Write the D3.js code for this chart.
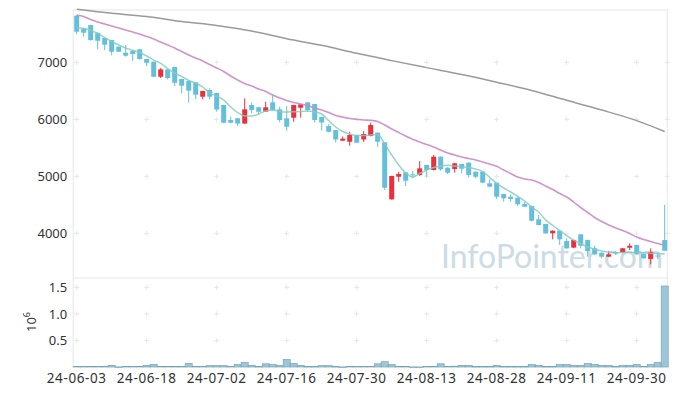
<!DOCTYPE html>
<html>
<head>
<meta charset="utf-8">
<script src="https://cdn.jsdelivr.net/npm/d3@7"></script>
<style>
  body { margin: 0; background: #fff; }
  svg { display: block; font-family: "Noto Sans", sans-serif; }
</style>
</head>
<body>
<div id="chart"></div>
<script>
// trading days
const dates = [
  "24-06-03","24-06-04","24-06-05","24-06-07","24-06-10","24-06-11","24-06-12","24-06-13","24-06-14","24-06-17",
  "24-06-18","24-06-19","24-06-20","24-06-21","24-06-24","24-06-25","24-06-26","24-06-27","24-06-28","24-07-01",
  "24-07-02","24-07-03","24-07-04","24-07-05","24-07-08","24-07-09","24-07-10","24-07-11","24-07-12","24-07-15",
  "24-07-16","24-07-17","24-07-18","24-07-19","24-07-22","24-07-23","24-07-24","24-07-25","24-07-26","24-07-29",
  "24-07-30","24-07-31","24-08-01","24-08-02","24-08-05","24-08-06","24-08-07","24-08-08","24-08-09","24-08-12",
  "24-08-13","24-08-14","24-08-16","24-08-19","24-08-20","24-08-21","24-08-22","24-08-23","24-08-26","24-08-27",
  "24-08-28","24-08-29","24-08-30","24-09-02","24-09-03","24-09-04","24-09-05","24-09-06","24-09-09","24-09-10",
  "24-09-11","24-09-12","24-09-13","24-09-19","24-09-20","24-09-23","24-09-24","24-09-25","24-09-26","24-09-27",
  "24-09-30","24-10-02","24-10-04","24-10-07","24-10-08"
];

const opens = [7818,7596,7654,7519,7426,7391,7274,7168,7204,7228,7058,7011,6747,6877,6918,6707,6672,6649,6397,6514,
  6461,6251,5988,6018,5926,6251,6211,6133,6298,6175,6018,6028,6204,6298,6268,6040,5882,5812,5625,5607,
  5725,5646,5707,5765,5596,4596,4993,5070,5035,5023,5198,5111,5344,5151,5128,5216,5239,5081,5081,4877,
  4888,4689,4642,4625,4514,4479,4246,4163,4000,4046,3865,3749,3982,3882,3737,3660,3590,3667,3660,3747,
  3795,3637,3549,3610,3882];
const highs = [7830,7600,7660,7520,7430,7395,7280,7304,7210,7235,7060,7015,6900,6880,6920,6710,6680,6655,6500,6544,
  6470,6255,6046,6020,6368,6291,6215,6309,6426,6221,6233,6255,6268,6300,6270,6045,5917,5815,5698,5782,
  5730,5795,5940,5770,5600,5010,5081,5075,5098,5268,5200,5374,5350,5160,5235,5220,5245,5085,5085,4947,
  4890,4690,4684,4630,4554,4485,4321,4165,4050,4050,3912,3890,3990,3890,3782,3665,3689,3689,3740,3824,
  3800,3640,3736,3649,4497];
const lows = [7491,7449,7380,7228,7216,7123,7180,7100,7028,7050,6935,6740,6725,6700,6584,6456,6291,6351,6351,6351,
  6133,5930,5935,5882,5920,6105,6075,6130,6150,5947,5800,5958,6032,6128,5947,5804,5770,5593,5620,5537,
  5585,5602,5700,5519,4760,4590,4905,4830,4965,5005,4993,5105,5098,5040,5063,5053,4982,4965,4880,4810,
  4602,4554,4554,4479,4460,4210,4140,3990,3895,3795,3730,3740,3737,3590,3625,3561,3585,3619,3655,3707,
  3625,3555,3456,3549,3690];
const closes = [7537,7519,7391,7379,7309,7186,7186,7116,7146,7058,6993,6747,6877,6725,6642,6590,6502,6432,6497,6397,
  6172,5940,5940,5926,6175,6163,6133,6211,6163,5988,5870,6251,6263,6163,5988,5944,5782,5646,5660,5725,
  5590,5742,5900,5607,4800,5005,5040,4923,5018,5140,5111,5344,5123,5063,5228,5133,5023,4993,4888,4818,
  4642,4614,4602,4509,4467,4221,4146,4000,4046,3895,3737,3882,3782,3689,3631,3590,3631,3649,3737,3782,
  3631,3561,3677,3593,3695];
const volumes = [12000,10000,12000,10000,12000,30000,2000,10000,10000,12000,30000,50000,12000,10000,10000,12000,66000,12000,10000,25000,
  25000,25000,12000,47000,85000,30000,8000,60000,47000,30000,140000,64000,30000,8000,8000,25000,25000,8000,2000,12000,
  12000,12000,12000,60000,100000,47000,12000,12000,2000,2000,12000,12000,60000,12000,15000,30000,30000,8000,8000,8000,
  30000,8000,8000,8000,8000,47000,30000,8000,8000,47000,47000,30000,30000,64000,47000,30000,30000,8000,30000,30000,
  47000,12000,47000,85000,1525000];

// short moving average (teal)
const maShort = [7605,7593,7563,7505,7435,7365,7304,7251,7211,7172,7111,7040,6982,6891,6812,6751,6681,6637,6567,6461,
  6409,6339,6216,6119,6058,6058,6093,6146,6163,6137,6128,6133,6137,6146,6128,6093,5979,5865,5786,5742,
  5716,5716,5725,5733,5567,5374,5198,5058,4988,5049,5111,5154,5181,5193,5181,5168,5154,5128,5084,4979,
  4877,4795,4725,4646,4567,4461,4374,4233,4137,4049,3961,3882,3821,3760,3719,3689,3672,3660,3663,3667,
  3663,3658,3651,3644,3637];
// mid moving average (pink)
const maMid = [7830,7804,7751,7707,7672,7637,7602,7567,7532,7497,7453,7409,7356,7304,7251,7189,7128,7075,7023,6961,
  6900,6839,6760,6690,6628,6584,6532,6488,6426,6374,6330,6295,6268,6242,6198,6163,6119,6067,6040,6014,
  6000,5988,5982,5961,5900,5830,5768,5707,5649,5602,5558,5514,5461,5409,5374,5339,5312,5286,5251,5216,
  5175,5110,5049,4988,4953,4935,4891,4830,4768,4698,4637,4549,4453,4365,4277,4207,4146,4093,4049,3997,
  3935,3891,3856,3821,3795];
// long moving average (gray), read every 5 days
const maLongDates = ["24-06-03","24-06-11","24-06-18","24-06-25","24-07-02","24-07-09","24-07-16","24-07-23","24-07-30","24-08-06",
  "24-08-13","24-08-21","24-08-28","24-09-04","24-09-11","24-09-23","24-09-30","24-10-08"];
const maLong = [7930,7860,7804,7716,7646,7549,7414,7298,7158,7030,6907,6786,6651,6507,6333,6163,5977,5786];

const priceTicks = [4000, 5000, 6000, 7000];
const volumeTicks = [500000, 1000000, 1500000];
const xTickDates = dates.filter((d, i) => i % 10 === 0);

const width = 677, height = 396;
const left = 73.2, right = 668.2;
const priceTop = 10, priceBottom = 278, volTop = 278.3, volBottom = 367;

const candles = dates.map((d, i) => ({
  date: d, open: opens[i], high: highs[i], low: lows[i], close: closes[i], volume: volumes[i],
  maS: maShort[i], maM: maMid[i]
}));

const x = d3.scaleBand().domain(dates).range([left, right]).padding(0);
const bw = x.bandwidth();
const cx = d => x(d) + bw / 2;

const y = d3.scaleLinear().domain([3216, 7918]).range([priceBottom, priceTop]);
const yv = d3.scaleLinear().domain([0, 1670000]).range([volBottom, volTop]);

const svg = d3.select("#chart").append("svg")
  .attr("width", width)
  .attr("height", height)
  .attr("viewBox", [0, 0, width, height]);

// panel frame
svg.append("rect")
  .attr("x", left).attr("y", priceTop)
  .attr("width", 667.3 - left).attr("height", priceBottom - priceTop)
  .attr("fill", "none").attr("stroke", "#e6e6e6").attr("stroke-width", 1);
svg.append("line").attr("x1", left).attr("x2", left).attr("y1", priceBottom).attr("y2", volBottom)
  .attr("stroke", "#e6e6e6");
svg.append("line").attr("x1", 667.3).attr("x2", 667.3).attr("y1", priceBottom).attr("y2", volBottom)
  .attr("stroke", "#e6e6e6");

// plus-shaped grid markers
const plus = (px, py) => {
  svg.append("path")
    .attr("d", `M${px - 2.5},${py}H${px + 2.5}M${px},${py - 2.5}V${py + 2.5}`)
    .attr("stroke", "#e6e6e6").attr("stroke-width", 1).attr("fill", "none");
};
for (const d of xTickDates) {
  for (const t of priceTicks) plus(cx(d), y(t));
  for (const t of volumeTicks) plus(cx(d), yv(t));
}
for (const t of priceTicks) plus(667.3, y(t));

// watermark
svg.append("text")
  .attr("x", 441).attr("y", 268)
  .attr("font-size", 32).attr("font-family", "Lato, sans-serif")
  .attr("fill", "#c3d6e2").attr("opacity", 0.85)
  .text("InfoPointer.com");

// candles
const up = "#ec2f3a", down = "#64bfdb";
const cg = svg.append("g");
cg.selectAll("line.wick")
  .data(candles)
  .join("line")
  .attr("x1", d => cx(d.date)).attr("x2", d => cx(d.date))
  .attr("y1", d => y(d.high)).attr("y2", d => y(d.low))
  .attr("stroke", d => d.close >= d.open ? up : down)
  .attr("stroke-width", 1);
cg.selectAll("rect.body")
  .data(candles)
  .join("rect")
  .attr("x", d => cx(d.date) - 2.5)
  .attr("width", 5)
  .attr("y", d => y(Math.max(d.open, d.close)))
  .attr("height", d => Math.max(1, Math.abs(y(d.open) - y(d.close))))
  .attr("fill", d => d.close >= d.open ? up : down);

// moving averages
const lineS = d3.line().x(d => cx(d.date)).y(d => y(d.maS)).curve(d3.curveMonotoneX);
const lineM = d3.line().x(d => cx(d.date)).y(d => y(d.maM)).curve(d3.curveMonotoneX);
const lineL = d3.line().x((d, i) => cx(d)).y((d, i) => y(maLong[i])).curve(d3.curveMonotoneX);

svg.append("path").datum(maLongDates).attr("d", lineL)
  .attr("fill", "none").attr("stroke", "#9a9a9a").attr("stroke-width", 1.5);
svg.append("path").datum(candles).attr("d", lineM)
  .attr("fill", "none").attr("stroke", "#c98ac5").attr("stroke-width", 1.6).attr("opacity", 0.9);
svg.append("path").datum(candles).attr("d", lineS)
  .attr("fill", "none").attr("stroke", "#86cbbd").attr("stroke-width", 1.5).attr("opacity", 0.85);

// volume bars
svg.append("g").selectAll("rect")
  .data(candles)
  .join("rect")
  .attr("x", d => x(d.date))
  .attr("width", bw)
  .attr("y", d => yv(d.volume))
  .attr("height", d => Math.max(0.5, yv(0) - yv(d.volume)))
  .attr("fill", "#9fc6d6")
  .attr("stroke", "#73a4ba")
  .attr("stroke-width", 0.7);

// axes
const styleText = g => g.selectAll("text")
  .attr("font-size", 13).attr("fill", "#333").attr("font-family", "Noto Sans, sans-serif");

svg.append("g")
  .attr("transform", `translate(${left},0)`)
  .call(d3.axisLeft(y).tickValues(priceTicks).tickSize(0).tickPadding(6).tickFormat(d3.format("d")))
  .call(g => g.select(".domain").remove())
  .call(styleText);

svg.append("g")
  .attr("transform", `translate(${left},0)`)
  .call(d3.axisLeft(yv).tickValues(volumeTicks).tickSize(0).tickPadding(6).tickFormat(v => (v / 1e6).toFixed(1)))
  .call(g => g.select(".domain").remove())
  .call(styleText);

svg.append("g")
  .attr("transform", `translate(0,${volBottom})`)
  .call(d3.axisBottom(x).tickValues(xTickDates).tickSize(0).tickPadding(6))
  .call(g => g.select(".domain").remove())
  .call(styleText)
  .call(g => g.selectAll("text").attr("font-size", 13.5).attr("letter-spacing", "0.6px"));

// volume unit label
const unit = svg.append("text")
  .attr("transform", "translate(36,322) rotate(-90)")
  .attr("text-anchor", "middle")
  .attr("font-size", 13).attr("fill", "#333");
unit.append("tspan").text("10");
unit.append("tspan").attr("dy", -6).attr("font-size", 9).text("6");
</script>
</body>
</html>
